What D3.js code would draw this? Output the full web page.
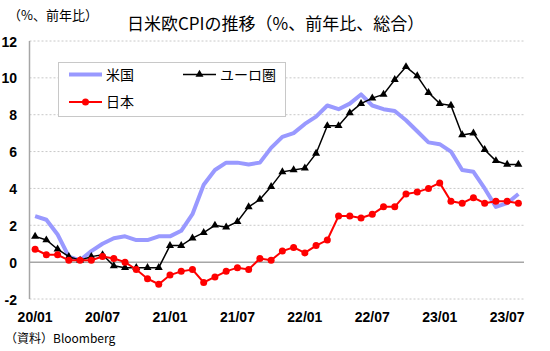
<!DOCTYPE html>
<html><head><meta charset="utf-8">
<script src="https://cdn.jsdelivr.net/npm/d3@7"></script>
<style>
html,body{margin:0;padding:0;background:#fff;}
svg{display:block;}
text{font-family:"Liberation Sans",Arial,"Noto Sans CJK JP",sans-serif;}
.cjk{font-family:"Noto Sans CJK JP","Liberation Sans",sans-serif;}
</style>
</head><body>
<script>
const months = ["20/01","20/02","20/03","20/04","20/05","20/06","20/07","20/08","20/09","20/10","20/11","20/12",
"21/01","21/02","21/03","21/04","21/05","21/06","21/07","21/08","21/09","21/10","21/11","21/12",
"22/01","22/02","22/03","22/04","22/05","22/06","22/07","22/08","22/09","22/10","22/11","22/12",
"23/01","23/02","23/03","23/04","23/05","23/06","23/07","23/08"];
const us = [2.5,2.3,1.5,0.3,0.1,0.6,1.0,1.3,1.4,1.2,1.2,1.4,
1.4,1.7,2.6,4.2,5.0,5.4,5.4,5.3,5.4,6.2,6.8,7.0,
7.5,7.9,8.5,8.3,8.6,9.1,8.5,8.3,8.2,7.7,7.1,6.5,
6.4,6.0,5.0,4.9,4.0,3.0,3.2,3.7];
const euro = [1.4,1.2,0.7,0.3,0.1,0.3,0.4,-0.2,-0.3,-0.3,-0.3,-0.3,
0.9,0.9,1.3,1.6,2.0,1.9,2.2,3.0,3.4,4.1,4.9,5.0,
5.1,5.9,7.4,7.4,8.1,8.6,8.9,9.1,9.9,10.6,10.1,9.2,
8.6,8.5,6.9,7.0,6.1,5.5,5.3,5.3];
const japan = [0.7,0.4,0.4,0.1,0.1,0.1,0.3,0.2,0.0,-0.4,-0.9,-1.2,
-0.7,-0.5,-0.4,-1.1,-0.8,-0.5,-0.3,-0.4,0.2,0.1,0.6,0.8,
0.5,0.9,1.2,2.5,2.5,2.4,2.6,3.0,3.0,3.7,3.8,4.0,
4.3,3.3,3.2,3.5,3.2,3.3,3.3,3.2];
const xTickLabels = ["20/01","20/07","21/01","21/07","22/01","22/07","23/01","23/07"];
const yTicks = [-2,0,2,4,6,8,10,12];
const seriesNames = ["米国","ユーロ圏","日本"];

const W=550,H=351;
const svg=d3.select("body").append("svg").attr("width",W).attr("height",H);
const x=d3.scaleBand().domain(months).range([29.5,524]).padding(0);
const cx=d=>x(d)+x.bandwidth()/2;
const y=d3.scaleLinear().domain([-2,12]).range([299,41]);

// gridlines
svg.append("g").selectAll("line").data(yTicks.filter(v=>v!==0)).join("line")
 .attr("x1",29.5).attr("x2",524).attr("y1",d=>y(d)).attr("y2",d=>y(d))
 .attr("stroke","#c8c8c8").attr("stroke-width",1).attr("stroke-dasharray","2,2");
// zero line
svg.append("line").attr("x1",29.5).attr("x2",524).attr("y1",y(0)).attr("y2",y(0))
 .attr("stroke","#a6a6a6").attr("stroke-width",1.5);
// y axis line
svg.append("line").attr("x1",29.5).attr("x2",29.5).attr("y1",y(12)).attr("y2",y(-2))
 .attr("stroke","#a6a6a6").attr("stroke-width",1.5);

// y tick labels
const yAxis=d3.axisLeft(y).tickValues(yTicks).tickSize(0).tickPadding(0).tickFormat(d=>d<0?"-"+Math.abs(d):d);
const ya=svg.append("g").attr("transform","translate(17,0)").call(yAxis);
ya.select(".domain").remove();
ya.selectAll("text").attr("font-size",14).attr("font-weight","bold").attr("fill","#000")
 .attr("font-family","'Liberation Sans',Arial,sans-serif").attr("dy","0.36em");

// x tick labels
const xAxis=d3.axisBottom(x).tickValues(xTickLabels).tickSize(0).tickPadding(0);
const xa=svg.append("g").attr("transform","translate(0,311)").call(xAxis);
xa.select(".domain").remove();
xa.selectAll("text").attr("font-size",14).attr("font-weight","bold").attr("fill","#000")
 .attr("font-family","'Liberation Sans',Arial,sans-serif").attr("dy","0.75em");

const line=d3.line().x((d,i)=>cx(months[i])).y(d=>y(d));
// US
svg.append("path").datum(us).attr("d",line).attr("fill","none")
 .attr("stroke","#9999ff").attr("stroke-width",4).attr("stroke-linejoin","round");
// Euro
svg.append("path").datum(euro).attr("d",line).attr("fill","none")
 .attr("stroke","#000").attr("stroke-width",1.5);
const tri=d3.symbol().type(d3.symbolTriangle).size(28);
svg.append("g").selectAll("path").data(euro).join("path")
 .attr("d",tri).attr("transform",(d,i)=>`translate(${cx(months[i])},${y(d)})`).attr("fill","#000");
// Japan
svg.append("path").datum(japan).attr("d",line).attr("fill","none")
 .attr("stroke","#ff0000").attr("stroke-width",2);
svg.append("g").selectAll("circle").data(japan).join("circle")
 .attr("cx",(d,i)=>cx(months[i])).attr("cy",d=>y(d)).attr("r",3.5).attr("fill","#ff0000");

// legend
const lg=svg.append("g");
lg.append("rect").attr("x",58.5).attr("y",62.5).attr("width",227).attr("height",54)
 .attr("fill","#fff").attr("stroke","#c8c8c8").attr("stroke-width",1);
lg.append("line").attr("x1",69).attr("x2",102).attr("y1",74.5).attr("y2",74.5).attr("stroke","#9999ff").attr("stroke-width",4);
lg.append("text").attr("class","cjk").attr("x",106).attr("y",74.5).attr("dy","0.36em").attr("font-size",14).text(seriesNames[0]);
lg.append("line").attr("x1",183).attr("x2",216).attr("y1",74.5).attr("y2",74.5).attr("stroke","#000").attr("stroke-width",1.5);
lg.append("path").attr("d",tri).attr("transform","translate(199.5,74.5)").attr("fill","#000");
lg.append("text").attr("class","cjk").attr("x",220).attr("y",74.5).attr("dy","0.36em").attr("font-size",14).text(seriesNames[1]);
lg.append("line").attr("x1",69).attr("x2",102).attr("y1",102).attr("y2",102).attr("stroke","#ff0000").attr("stroke-width",2);
lg.append("circle").attr("cx",85.5).attr("cy",102).attr("r",3.5).attr("fill","#ff0000");
lg.append("text").attr("class","cjk").attr("x",106).attr("y",102).attr("dy","0.36em").attr("font-size",14).text(seriesNames[2]);

// titles
svg.append("text").attr("class","cjk").attr("x",127).attr("y",24).attr("dy","0.36em")
 .attr("font-size",17).text("日米欧CPIの推移（%、前年比、総合）");
svg.append("text").attr("class","cjk").attr("x",8).attr("y",15).attr("dy","0.36em")
 .attr("font-size",13).text("（%、前年比）");
svg.append("text").attr("class","cjk").attr("x",5).attr("y",339).attr("dy","0.36em")
 .attr("font-size",12).text("（資料）Bloomberg");
</script>
</body></html>
